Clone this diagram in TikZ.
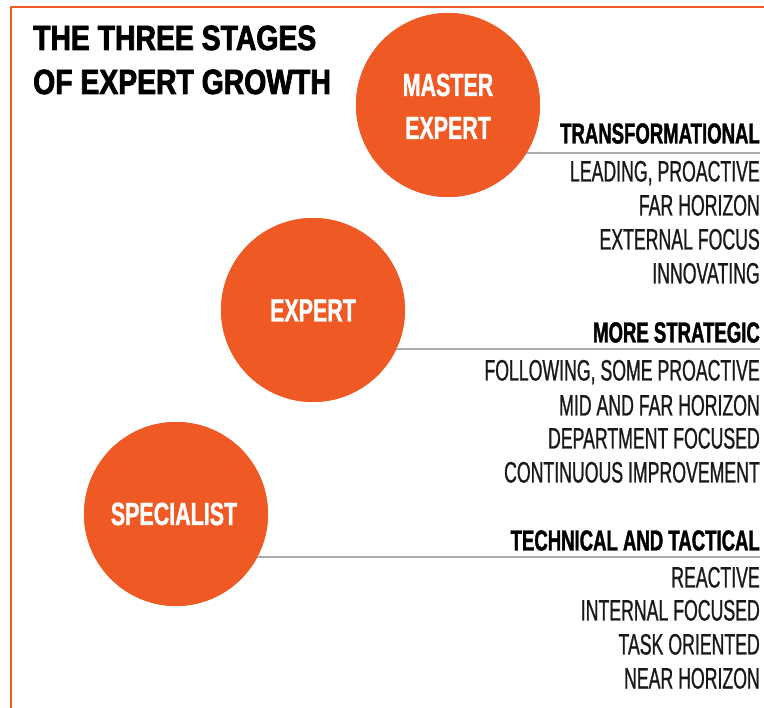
\documentclass[tikz,border=0pt]{standalone}
\usepackage{fontspec}
\setmainfont{Liberation Sans}
\newfontfamily\condreg[FakeStretch=0.6,FakeBold=0.8]{Liberation Sans}
\newfontfamily\condbold[FakeStretch=0.64,FakeBold=1.3,UprightFont={* Bold}]{Liberation Sans}
\newfontfamily\circfont[FakeStretch=0.67,FakeBold=1.0,UprightFont={* Bold}]{Liberation Sans}
\newfontfamily\titlefont[FakeStretch=0.81,FakeBold=2.2,UprightFont={* Bold}]{Liberation Sans}
\definecolor{stageorange}{HTML}{EF5A24}
\definecolor{rulegray}{HTML}{ABABAB}
\begin{document}
\begin{tikzpicture}[x=1pt,y=-1pt,
  stage/.style={circle,fill=stageorange,minimum size=184pt,inner sep=0pt},
  clabel/.style={text=white,font=\circfont\fontsize{32}{32}\selectfont,inner sep=0pt,anchor=base},
  head/.style={font=\condbold\fontsize{29}{29}\selectfont,inner sep=0pt,anchor=base east,text=black},
  item/.style={font=\condreg\fontsize{29.5}{29.5}\selectfont,inner sep=0pt,anchor=base east,text=black!90},
  sep/.style={draw=rulegray,line width=1.2pt},
  ttl/.style={font=\titlefont\fontsize{35}{35}\selectfont,inner sep=0pt,anchor=base west,text=black}]
\useasboundingbox (0,0) rectangle (764,708);
\coordinate (bl) at (11,708);
\coordinate (tl) at (11,7);
\coordinate (tr) at (764,7);
\draw[stageorange,line width=2.6pt] (bl) -- (tl) -- (tr);

% separator line end points
\coordinate (e1) at (760,153);
\coordinate (e2) at (760,349);
\coordinate (e3) at (760,557);

% circles
\node[stage] (master) at (448,105) {};
\node[stage] (expert) at (313,310) {};
\node[stage] (spec) at (176,514) {};

\draw[sep] (master.center |- e1) -- (e1);
\draw[sep] (expert.center |- e2) -- (e2);
\draw[sep] (spec.center |- e3) -- (e3);
\node[stage] at (master) {};
\node[stage] at (expert) {};
\node[stage] at (spec) {};

% circle labels
\node[clabel] (m1) at (448,96) {MASTER};
\node[clabel] (m2) at (448,139) {EXPERT};
\node[clabel] (x1) at (313,321.5) {EXPERT};
\node[clabel] (s1) at (174,525) {SPECIALIST};

% title
\node[ttl] (t1) at (33,50) {THE THREE STAGES};
\node[ttl] (t2) at (33,94) {OF EXPERT GROWTH};

% column 1
\node[head] (h1) at (760,143.5) {TRANSFORMATIONAL};
\node[item] (a1) at (760,181.5) {LEADING, PROACTIVE};
\node[item] (a2) at (760,215.5) {FAR HORIZON};
\node[item] (a3) at (760,249.5) {EXTERNAL FOCUS};
\node[item] (a4) at (760,283.5) {INNOVATING};

\node[head] (h2) at (760,342.5) {MORE STRATEGIC};
\node[item] (b1) at (760,380.5) {FOLLOWING, SOME PROACTIVE};
\node[item] (b2) at (760,415.5) {MID AND FAR HORIZON};
\node[item] (b3) at (760,448.5) {DEPARTMENT FOCUSED};
\node[item] (b4) at (760,482.5) {CONTINUOUS IMPROVEMENT};

\node[head] (h3) at (760,550.5) {TECHNICAL AND TACTICAL};
\node[item] (c1) at (760,587.5) {REACTIVE};
\node[item] (c2) at (760,620.5) {INTERNAL FOCUSED};
\node[item] (c3) at (760,654.5) {TASK ORIENTED};
\node[item] (c4) at (760,688.5) {NEAR HORIZON};
\end{tikzpicture}
\end{document}
